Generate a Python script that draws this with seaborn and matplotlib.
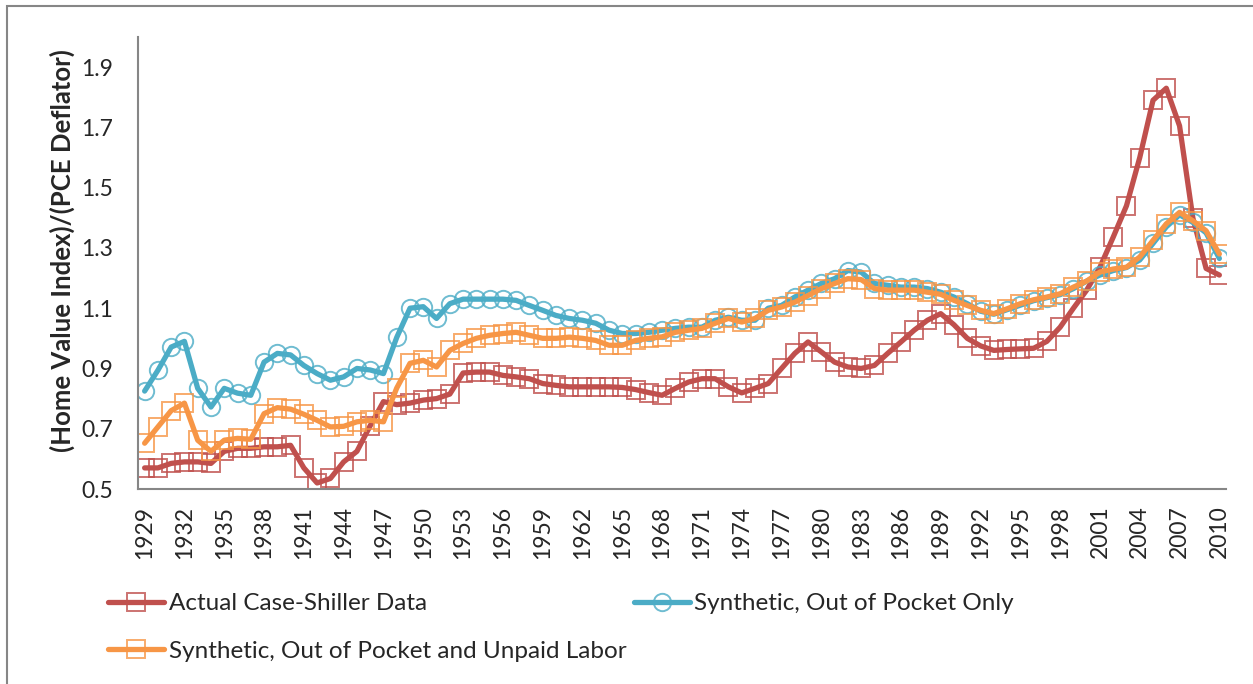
import matplotlib
matplotlib.use("Agg")
import matplotlib.pyplot as plt
import matplotlib.patches as mpatches
import seaborn as sns
import numpy as np

# data, 1929-2010
years = list(range(1929, 2011))

actual = [0.57, 0.57, 0.585, 0.59, 0.59, 0.585, 0.625, 0.635, 0.635, 0.64,
          0.64, 0.645, 0.57, 0.52, 0.535, 0.59, 0.625, 0.71, 0.79, 0.78,
          0.785, 0.795, 0.80, 0.815, 0.885, 0.888, 0.888, 0.877, 0.872, 0.866,
          0.85, 0.844, 0.839, 0.839, 0.839, 0.839, 0.837, 0.83, 0.82, 0.811,
          0.834, 0.855, 0.866, 0.866, 0.839, 0.819, 0.834, 0.85, 0.90, 0.95,
          0.988, 0.955, 0.921, 0.905, 0.90, 0.91, 0.95, 0.988, 1.027, 1.06,
          1.082, 1.045, 1.0, 0.975, 0.96, 0.963, 0.965, 0.967, 0.99, 1.037,
          1.10, 1.16, 1.236, 1.336, 1.44, 1.60, 1.79, 1.83, 1.705, 1.40,
          1.232, 1.21]

oop_only = [0.825, 0.894, 0.971, 0.99, 0.834, 0.772, 0.834, 0.818, 0.811, 0.921,
            0.95, 0.945, 0.91, 0.883, 0.861, 0.872, 0.90, 0.895, 0.883, 1.003,
            1.10, 1.105, 1.066, 1.115, 1.13, 1.13, 1.13, 1.13, 1.126, 1.109,
            1.093, 1.076, 1.066, 1.06, 1.05, 1.027, 1.016, 1.016, 1.02, 1.027,
            1.033, 1.037, 1.037, 1.06, 1.07, 1.06, 1.06, 1.10, 1.109, 1.137,
            1.16, 1.182, 1.198, 1.225, 1.22, 1.182, 1.176, 1.17, 1.17, 1.165,
            1.153, 1.137, 1.115, 1.09, 1.08, 1.095, 1.11, 1.125, 1.135, 1.145,
            1.165, 1.19, 1.21, 1.225, 1.235, 1.26, 1.315, 1.37, 1.41, 1.385,
            1.35, 1.265]

oop_labor = [0.652, 0.706, 0.76, 0.785, 0.662, 0.625, 0.662, 0.668, 0.665, 0.75,
             0.77, 0.765, 0.748, 0.728, 0.706, 0.708, 0.723, 0.728, 0.723, 0.835,
             0.917, 0.927, 0.905, 0.96, 0.983, 1.0, 1.01, 1.016, 1.02, 1.01,
             1.0, 1.0, 1.004, 1.0, 0.993, 0.977, 0.977, 0.993, 1.0, 1.005,
             1.02, 1.027, 1.033, 1.05, 1.066, 1.054, 1.066, 1.093, 1.104, 1.12,
             1.142, 1.165, 1.182, 1.198, 1.195, 1.165, 1.16, 1.16, 1.16, 1.153,
             1.146, 1.126, 1.109, 1.093, 1.082, 1.098, 1.115, 1.128, 1.137, 1.148,
             1.17, 1.19, 1.22, 1.23, 1.236, 1.27, 1.325, 1.38, 1.418, 1.39,
             1.357, 1.28]

labels = ["Actual Case-Shiller Data",
          "Synthetic, Out of Pocket Only",
          "Synthetic, Out of Pocket and Unpaid Labor"]
colors = ["#C0504D", "#4BACC6", "#F79646"]
markers = ["s", "o", "s"]

sns.set_style("white")
plt.rcParams["font.family"] = ["Lato", "DejaVu Sans"]

fig = plt.figure(figsize=(12.53, 6.84), dpi=100)
ax = fig.add_axes([138 / 1253, 1 - 489 / 684, (1226 - 138) / 1253, (489 - 37) / 684])

for vals, lab, col, mk in zip([actual, oop_only, oop_labor], labels, colors, markers):
    sns.lineplot(x=years, y=vals, ax=ax, color=col, lw=3.8, marker=mk,
                 markersize=12.5, mfc="none",
                 mec=matplotlib.colors.to_rgba(col, 0.8), mew=1.4, label=lab)

ax.set_xlim(1928.5, 2010.5)
ax.set_ylim(0.5, 2.0)
ax.set_xticks(range(1929, 2011, 3))
yt = np.arange(0.5, 1.91, 0.2)
ax.set_yticks(yt)
ax.set_yticklabels([f"{v:.1f}" for v in yt])
ax.tick_params(axis="x", labelrotation=90, length=0, pad=12, labelsize=16.5)
ax.tick_params(axis="y", length=0, pad=18, labelsize=16.5)
for s in ["top", "right"]:
    ax.spines[s].set_visible(False)
for s in ["left", "bottom"]:
    ax.spines[s].set_color("#868686")
    ax.spines[s].set_linewidth(1.5)
ax.set_xlabel("")
ax.set_ylabel("")

fig.text(62 / 1253, 1 - 251 / 684, "(Home Value Index)/(PCE Deflator)",
         rotation=90, ha="center", va="center", fontsize=18.5, fontweight="bold")

h, l = ax.get_legend_handles_labels()
ax.legend([h[0], h[2], h[1]], [l[0], l[2], l[1]], ncol=2, frameon=False,
          loc="upper left", bbox_to_anchor=(108 / 1253, 1 - 593 / 684),
          bbox_transform=fig.transFigure, fontsize=17.5, handlelength=2.3,
          handletextpad=0.2, columnspacing=0.3, labelspacing=1.1,
          borderaxespad=0, borderpad=0)

fig.patches.append(mpatches.Rectangle((7 / 1253, -0.1), 1.2, 1 - 6 / 684 + 0.1,
                                      transform=fig.transFigure, fill=False,
                                      edgecolor="#868686", lw=1.5))

fig.savefig("out.png", dpi=100)
